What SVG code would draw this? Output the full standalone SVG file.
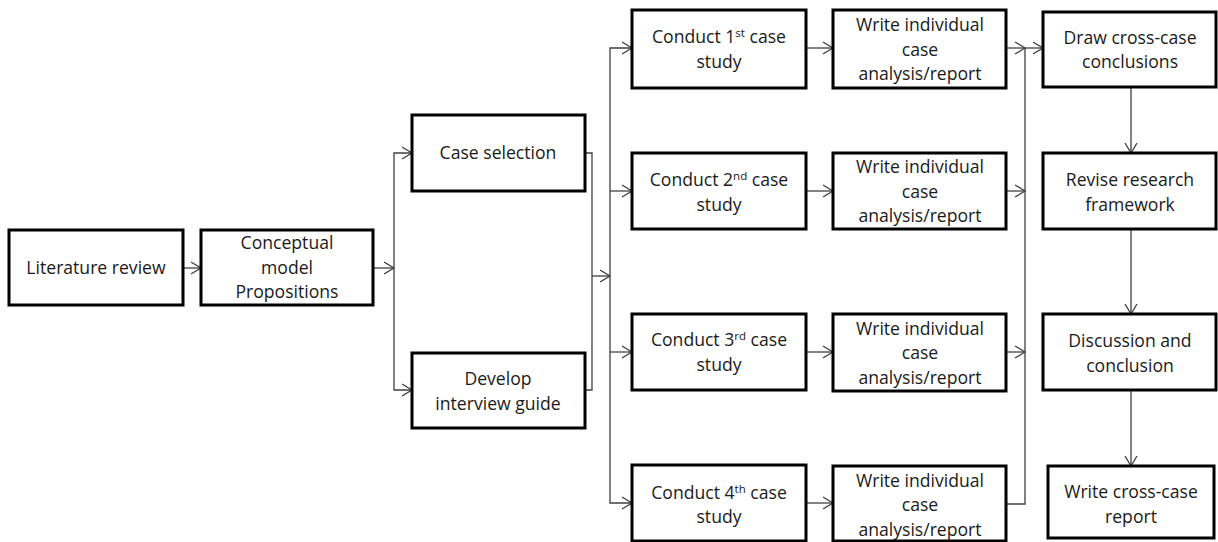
<svg xmlns="http://www.w3.org/2000/svg" width="1218" height="542" viewBox="0 0 1218 542">
<style>
.box{fill:#fff;stroke:#000;stroke-width:3}
.t{font-family:"Open Sans","Liberation Sans",sans-serif;font-size:17.6px;fill:#1a1a1a;text-anchor:middle}
.c{fill:none;stroke:#404040;stroke-width:1.3}
.a{marker-end:url(#arr)}
</style>
<defs>
<marker id="arr" markerUnits="userSpaceOnUse" markerWidth="12" markerHeight="14" refX="10" refY="6" orient="auto" viewBox="0 0 12 12">
<path d="M0,0 L10,6 L0,12" fill="none" stroke="#404040" stroke-width="1.3"/>
</marker>
</defs>
<rect width="1218" height="542" fill="#fff"/>
<g id="connectors">
<path class="c a" d="M183,268 H201"/>
<path class="c a" d="M373,268 H394"/>
<path class="c a" d="M394,268 V153 H412"/>
<path class="c a" d="M394,268 V390 H412"/>
<path class="c" d="M585,153 H592 V390 H585"/>
<path class="c a" d="M592,276 H610"/>
<path class="c a" d="M610,276 V48 H632"/>
<path class="c a" d="M610,276 V503 H632"/>
<path class="c a" d="M610,191 H632"/>
<path class="c a" d="M610,352 H632"/>
<path class="c a" d="M806,48 H833"/>
<path class="c a" d="M806,191 H833"/>
<path class="c a" d="M806,352 H833"/>
<path class="c a" d="M806,503 H833"/>
<path class="c a" d="M1006,48 H1025"/>
<path class="c a" d="M1006,191 H1025"/>
<path class="c a" d="M1006,352 H1025"/>
<path class="c" d="M1006,504 H1025 V48"/>
<path class="c a" d="M1025,48 H1043"/>
<path class="c a" d="M1131,87 V153"/>
<path class="c a" d="M1131,229 V314"/>
<path class="c a" d="M1131,390 V466"/>
</g>
<g id="lit"><rect class="box" x="9" y="230" width="174" height="75"/><text class="t" x="96" y="274">Literature review</text></g>
<g id="concept"><rect class="box" x="201" y="230" width="172" height="75"/><text class="t" x="287" y="249">Conceptual</text><text class="t" x="287" y="274">model</text><text class="t" x="287" y="298">Propositions</text></g>
<g id="case"><rect class="box" x="412" y="115" width="173" height="76"/><text class="t" x="498" y="159">Case selection</text></g>
<g id="develop"><rect class="box" x="412" y="353" width="173" height="75"/><text class="t" x="498" y="385">Develop</text><text class="t" x="498" y="410">interview guide</text></g>
<g id="conduct1"><rect class="box" x="632" y="10" width="174" height="78"/><text class="t" x="719" y="43">Conduct 1<tspan font-size="11.5" dy="-6">st</tspan><tspan dy="6"> case</tspan></text><text class="t" x="719" y="68">study</text></g>
<g id="conduct2"><rect class="box" x="632" y="153" width="174" height="76"/><text class="t" x="719" y="186">Conduct 2<tspan font-size="11.5" dy="-6">nd</tspan><tspan dy="6"> case</tspan></text><text class="t" x="719" y="211">study</text></g>
<g id="conduct3"><rect class="box" x="632" y="314" width="174" height="76"/><text class="t" x="719" y="346">Conduct 3<tspan font-size="11.5" dy="-6">rd</tspan><tspan dy="6"> case</tspan></text><text class="t" x="719" y="371">study</text></g>
<g id="conduct4"><rect class="box" x="632" y="465" width="174" height="76"/><text class="t" x="719" y="499">Conduct 4<tspan font-size="11.5" dy="-6">th</tspan><tspan dy="6"> case</tspan></text><text class="t" x="719" y="523">study</text></g>
<g id="write1"><rect class="box" x="833" y="10" width="173" height="78"/><text class="t" x="920" y="31">Write individual</text><text class="t" x="920" y="56">case</text><text class="t" x="920" y="80">analysis/report</text></g>
<g id="write2"><rect class="box" x="833" y="153" width="173" height="76"/><text class="t" x="920" y="173">Write individual</text><text class="t" x="920" y="198">case</text><text class="t" x="920" y="222">analysis/report</text></g>
<g id="write3"><rect class="box" x="833" y="314" width="173" height="77"/><text class="t" x="920" y="335">Write individual</text><text class="t" x="920" y="359">case</text><text class="t" x="920" y="384">analysis/report</text></g>
<g id="write4"><rect class="box" x="833" y="466" width="173" height="75"/><text class="t" x="920" y="487">Write individual</text><text class="t" x="920" y="511">case</text><text class="t" x="920" y="536">analysis/report</text></g>
<g id="draw"><rect class="box" x="1043" y="12" width="173" height="75"/><text class="t" x="1130" y="44">Draw cross-case</text><text class="t" x="1130" y="68">conclusions</text></g>
<g id="revise"><rect class="box" x="1043" y="153" width="173" height="76"/><text class="t" x="1130" y="186">Revise research</text><text class="t" x="1130" y="211">framework</text></g>
<g id="discuss"><rect class="box" x="1043" y="314" width="173" height="76"/><text class="t" x="1130" y="347">Discussion and</text><text class="t" x="1130" y="372">conclusion</text></g>
<g id="report"><rect class="box" x="1048" y="466" width="166" height="72"/><text class="t" x="1131" y="498">Write cross-case</text><text class="t" x="1131" y="523">report</text></g>
</svg>
